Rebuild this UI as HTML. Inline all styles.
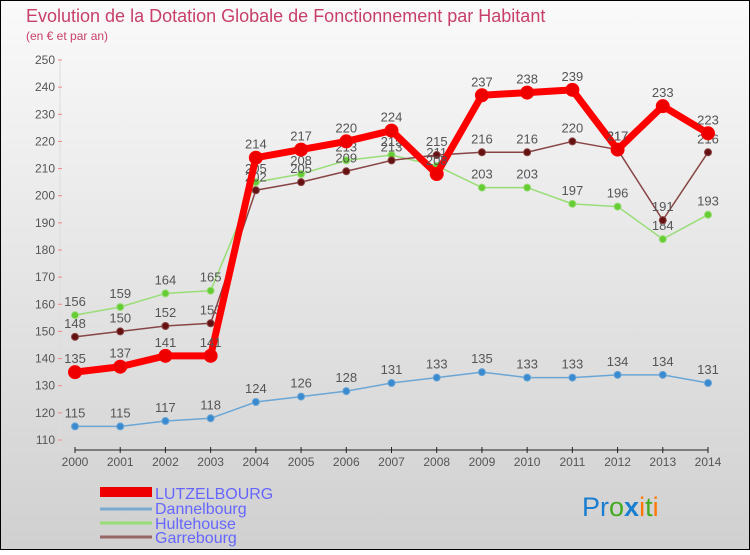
<!DOCTYPE html>
<html><head><meta charset="utf-8"><style>
body{margin:0;}
svg text{font-family:"Liberation Sans","DejaVu Sans",sans-serif;}
</style></head><body>
<svg width="750" height="550" xmlns="http://www.w3.org/2000/svg" id="chart">
<defs><linearGradient id="bg" x1="0" y1="0" x2="0" y2="1"><stop offset="0" stop-color="#fafafa"/><stop offset="1" stop-color="#d0d0d0"/></linearGradient></defs>
<rect x="0.5" y="0.5" width="749" height="549" fill="url(#bg)" stroke="#000"/>
<text x="26" y="22" font-size="18" fill="#c8406a">Evolution de la Dotation Globale de Fonctionnement par Habitant</text>
<text x="26" y="40" font-size="12" fill="#c8406a">(en € et par an)</text>
<g id="axes"></g><g id="series"></g>
<g>
<rect x="100" y="487" width="52" height="10" fill="#e00"/>
<text x="155" y="499" font-size="16" fill="#6666ff">LUTZELBOURG</text>
<line x1="100" y1="509" x2="152" y2="509" stroke="#7aaad0" stroke-width="3"/>
<text x="155" y="514" font-size="16" fill="#6666ff">Dannelbourg</text>
<line x1="100" y1="523" x2="152" y2="523" stroke="#99dd77" stroke-width="3"/>
<text x="155" y="529" font-size="16" fill="#6666ff">Hultehouse</text>
<line x1="100" y1="537" x2="152" y2="537" stroke="#996666" stroke-width="3"/>
<text x="155" y="543" font-size="16" fill="#6666ff">Garrebourg</text>
</g>
<text x="582" y="516" font-size="27"><tspan fill="#1a7fd0">Pr</tspan><tspan fill="#44aa22">o</tspan><tspan fill="#1a7fd0" font-weight="bold">x</tspan><tspan fill="#ff7700">i</tspan><tspan fill="#44aa22">t</tspan><tspan fill="#ff7700">i</tspan></text>
</svg>
<script>
const years=[2000,2001,2002,2003,2004,2005,2006,2007,2008,2009,2010,2011,2012,2013,2014];
const yTicks=[110,120,130,140,150,160,170,180,190,200,210,220,230,240,250];
const lutzelbourg=[135,137,141,141,214,217,220,224,208,237,238,239,217,233,223];
const dannelbourg=[115,115,117,118,124,126,128,131,133,135,133,133,134,134,131];
const hultehouse=[156,159,164,165,205,208,213,215,211,203,203,197,196,184,193];
const garrebourg=[148,150,152,153,202,205,209,213,215,216,216,220,217,191,216];
const NS="http://www.w3.org/2000/svg";
const xS=i=>75+i*(633/(years.length-1));
const yS=v=>440-(v-110)*(380/140);
function mk(tag,attrs,parent){const e=document.createElementNS(NS,tag);for(const k in attrs)e.setAttribute(k,attrs[k]);parent.appendChild(e);return e;}
const ax=document.getElementById('axes');
const yl=mk('line',{x1:60,y1:yS(250),x2:60,y2:450,stroke:'#ddd'},ax);


yTicks.forEach(t=>{
 const g=mk('line',{x1:58,y1:yS(t),x2:62,y2:yS(t),stroke:'#e88'},ax);
 
 
 const tx=mk('text',{x:55,y:yS(t)+4,'font-size':12,fill:'#555','text-anchor':'end'},ax);
 tx.textContent=t;
 
 
});
const xl=mk('line',{x1:75,y1:450,x2:708,y2:450,stroke:'#222','stroke-width':1},ax);


years.forEach((y,i)=>{
 mk('line',{x1:xS(i),y1:447,x2:xS(i),y2:453,stroke:'#222'},ax);
 const tx=mk('text',{x:xS(i),y:466,'font-size':12,fill:'#555','text-anchor':'middle'},ax);
 tx.textContent=y;
 
 
});
const sg=document.getElementById('series');
function series(name,data,color,w,r,dot){
 const g=mk('g',{},sg);
 
 
 const p=mk('polyline',{points:data.map((v,i)=>xS(i)+','+yS(v)).join(' '),fill:'none',stroke:color,'stroke-width':w,'stroke-linejoin':'round'},g);
 
 
 data.forEach((v,i)=>{
  const c=mk('circle',{cx:xS(i),cy:yS(v),r:r,fill:dot,stroke:color,'stroke-width':1},g);
  
  
  const t=mk('text',{x:xS(i),y:yS(v)-9,'font-size':13,fill:'#555','text-anchor':'middle'},g);
  t.textContent=v;
  
  
 });
}
series('dannelbourg',dannelbourg,'#6aa6d6',1.5,3.5,'#3a8ad0');
series('hultehouse',hultehouse,'#99dd77',1.5,3.5,'#66cc33');
series('garrebourg',garrebourg,'#884444',1.5,3.5,'#661111');
series('lutzelbourg',lutzelbourg,'#ff0000',7,6.5,'#ee0000');
</script>
</body></html>
